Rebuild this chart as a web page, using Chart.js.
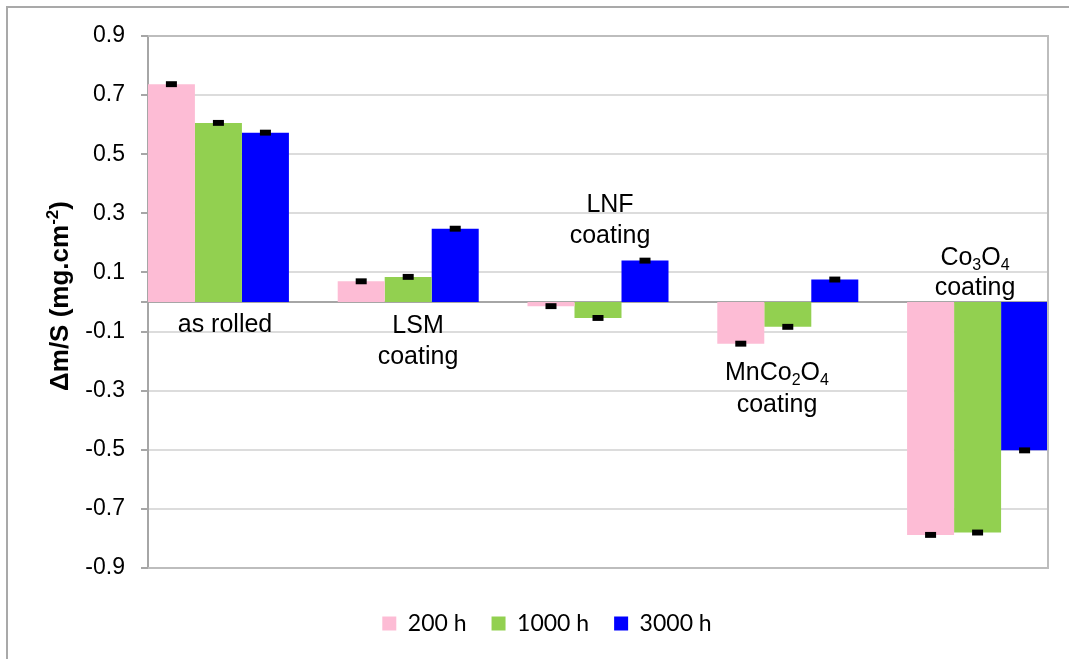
<!DOCTYPE html>
<html><head><meta charset="utf-8">
<script src="https://cdn.jsdelivr.net/npm/chart.js@4"></script>
<style>html,body{margin:0;padding:0;background:#fff}#wrap{width:1069px;height:659px;position:relative}</style>
</head><body><div id="wrap"><canvas id="c" width="1069" height="659"></canvas></div>
<script>
// ---- data ----
const categories = ['as rolled', 'LSM coating', 'LNF coating', 'MnCo2O4 coating', 'Co3O4 coating'];
const categoryLines = [['as rolled'], ['LSM', 'coating'], ['LNF', 'coating'], ['MnCo_2O_4', 'coating'], ['Co_3O_4', 'coating']];
const seriesNames = ['200 h', '1000 h', '3000 h'];
const s200  = [0.737, 0.070, -0.014, -0.141, -0.788];
const s1000 = [0.606, 0.085, -0.054, -0.084, -0.780];
const s3000 = [0.573, 0.248, 0.140, 0.076, -0.502];
const err200  = [0.01, 0.01, 0.01, 0.01, 0.01];
const err1000 = [0.01, 0.01, 0.01, 0.01, 0.01];
const err3000 = [0.01, 0.01, 0.01, 0.01, 0.01];
const yTicks = [-0.9, -0.7, -0.5, -0.3, -0.1, 0.1, 0.3, 0.5, 0.7, 0.9];
const yTitle = 'Δm/S (mg.cm^{-2})';

const FONT = '"Liberation Sans", Arial, sans-serif';
const colors = ['#FDBCD5', '#92D050', '#0000FF'];
const seriesVals = [s200, s1000, s3000];
const seriesErr = [err200, err1000, err3000];

function parseRich(str) {
  const re = /_(.)|\^\{([^}]*)\}|[^_^]+/g; const out = []; let m;
  while ((m = re.exec(str)) !== null) {
    if (m[1] !== undefined) out.push({t: m[1], k: 'sub'});
    else if (m[2] !== undefined) out.push({t: m[2], k: 'sup'});
    else out.push({t: m[0], k: ''});
  }
  return out;
}
function drawRich(ctx, str, cx, base, size, weight) {
  const segs = parseRich(str);
  const small = Math.round(size * 0.64);
  let w = 0;
  segs.forEach(s => { ctx.font = weight + ' ' + (s.k ? small : size) + 'px ' + FONT; s.w = ctx.measureText(s.t).width; w += s.w; });
  let x = cx - w / 2;
  ctx.textAlign = 'left'; ctx.textBaseline = 'alphabetic';
  segs.forEach(s => {
    ctx.font = weight + ' ' + (s.k ? small : size) + 'px ' + FONT;
    const dy = s.k === 'sub' ? size * 0.2 : (s.k === 'sup' ? -size * 0.38 : 0);
    ctx.fillText(s.t, x, base + dy);
    x += s.w;
  });
}

const decor = {
  id: 'decor',
  beforeDraw(chart) {
    const ctx = chart.ctx; ctx.save();
    ctx.strokeStyle = '#a9a9a9'; ctx.lineWidth = 2;
    ctx.beginPath(); ctx.moveTo(7, 720); ctx.lineTo(7, 7); ctx.lineTo(1120, 7); ctx.stroke();
    ctx.restore();
  },
  beforeDatasetsDraw(chart) {
    const {ctx, chartArea: a, scales: {y}} = chart;
    const y0 = y.getPixelForValue(0);
    ctx.save(); ctx.strokeStyle = '#a6a6a6'; ctx.lineWidth = 2;
    ctx.beginPath(); ctx.moveTo(a.left - 7, y0); ctx.lineTo(a.right, y0); ctx.stroke();
    ctx.restore();
  },
  afterDatasetsDraw(chart) {
    const {ctx, chartArea: a, scales: {x, y}} = chart;
    ctx.save();
    // error caps
    ctx.fillStyle = '#000';
    seriesVals.forEach((vals, di) => {
      const meta = chart.getDatasetMeta(di);
      meta.data.forEach((bar, i) => {
        const v = vals[i], e = seriesErr[di][i];
        const yt = y.getPixelForValue(v + e), yb = y.getPixelForValue(v - e);
        ctx.fillRect(bar.x - 5.5, yt, 11, yb - yt);
      });
    });
    // plot border
    ctx.strokeStyle = '#bdbdbd'; ctx.lineWidth = 2;
    ctx.beginPath(); ctx.moveTo(a.left, a.top); ctx.lineTo(a.right, a.top); ctx.lineTo(a.right, a.bottom); ctx.lineTo(a.left, a.bottom); ctx.stroke();
    // category labels
    const y0 = y.getPixelForValue(0);
    const dx = [6.6, 9.8, 12, -10.8, -2.6];
    const dy = [[29.5], [30.5, 61.5], [-90.5, -59.5], [77.5, 110], [-37.5, -7.5]];
    ctx.fillStyle = '#000';
    categoryLines.forEach((lines, i) => {
      const cx = x.getPixelForValue(i) + dx[i];
      lines.forEach((ln, j) => drawRich(ctx, ln, cx, y0 + dy[i][j], 25, 'normal'));
    });
    // y title
    ctx.translate(59, 296); ctx.rotate(-Math.PI / 2);
    drawRich(ctx, yTitle, 0, 9, 26, 'bold');
    ctx.restore();
  }
};

new Chart(document.getElementById('c'), {
  type: 'bar',
  data: {
    datasets: seriesNames.map((n, di) => ({
      label: n,
      data: seriesVals[di].map((v, i) => ({x: i, y: v})),
      backgroundColor: colors[di],
      borderWidth: 0,
      categoryPercentage: 0.743,
      barPercentage: 1.0
    }))
  },
  options: {
    responsive: false,
    animation: false,
    layout: {padding: {left: 46, right: 21, top: 36, bottom: 14}},
    scales: {
      x: {
        type: 'linear', position: 'bottom', min: -0.371, max: 4.371, offset: false,
        afterBuildTicks: s => { s.ticks = categories.map((c, i) => ({value: i})); },
        ticks: {display: false}, grid: {display: false}, border: {display: false},
        afterFit: s => { s.height = 19; }
      },
      y: {
        min: -0.9, max: 0.9,
        afterBuildTicks: s => { s.ticks = yTicks.map(v => ({value: v})); },
        afterFit: s => { s.width = 102; },
        ticks: {
          callback: v => Number(v).toFixed(1),
          font: {family: FONT, size: 23}, color: '#000', padding: 16
        },
        grid: {color: '#dcdcdc', lineWidth: 2, tickColor: '#a6a6a6', tickLength: 7, tickWidth: 2},
        border: {display: true, color: '#a6a6a6', width: 2}
      }
    },
    plugins: {
      legend: {
        position: 'bottom',
        labels: {font: {family: 'Lato', size: 23}, color: '#000', boxWidth: 14, boxHeight: 14, padding: 25}
      },
      tooltip: {enabled: false}
    }
  },
  plugins: [decor]
});
</script>
</body></html>
